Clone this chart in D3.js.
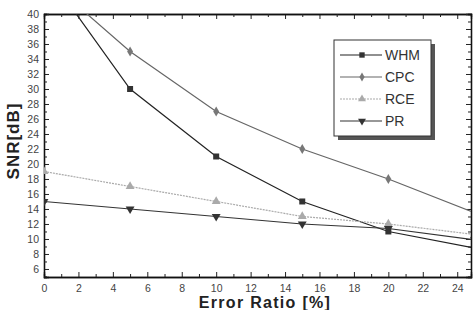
<!DOCTYPE html>
<html>
<head>
<script src="https://d3js.org/d3.v7.min.js"></script>
<style>
body {margin:0; background:#fff;}
svg {font-family: "Liberation Sans", Arial, sans-serif;}
</style>
</head>
<body>
<svg id="chart" width="473" height="310"></svg>
<script>
// error ratio [%]
var ratio = [0, 5, 10, 15, 20, 25];
var whm = [46, 30, 21, 15, 11, 8.8];
var cpc = [45, 35, 27, 22, 18, 13.5];
var rce = [19, 17, 15, 13, 12, 10.6];
var pr  = [15, 14, 13, 12, 11.4, 9.9];
var seriesNames = ["WHM", "CPC", "RCE", "PR"];
var xTicks = [0, 2, 4, 6, 8, 10, 12, 14, 16, 18, 20, 22, 24];
var yTicks = [6, 8, 10, 12, 14, 16, 18, 20, 22, 24, 26, 28, 30, 32, 34, 36, 38, 40];

var pLeft = 44, pRight = 471, pTop = 14, pBottom = 277;
var svg = d3.select("#chart");

var x = d3.scaleLinear().domain([0, 24.8]).range([pLeft, pRight]);
var y = d3.scaleLinear().domain([4.93, 40]).range([pBottom, pTop]);

svg.append("clipPath").attr("id", "clip")
  .append("rect").attr("x", pLeft).attr("y", pTop).attr("width", pRight - pLeft).attr("height", pBottom - pTop);

// frame axes, ticks point inward
var minorX = d3.range(1, 25, 2), minorY = d3.range(5, 40, 2);
svg.append("g").attr("transform", "translate(0," + pBottom + ")")
  .call(d3.axisBottom(x).tickValues(xTicks).tickSize(-5).tickPadding(8).tickFormat(d3.format("d")));
svg.append("g").attr("transform", "translate(0," + pBottom + ")")
  .call(d3.axisBottom(x).tickValues(minorX).tickSize(-3).tickFormat(""));
svg.append("g").attr("transform", "translate(0," + pTop + ")")
  .call(d3.axisTop(x).tickValues(xTicks).tickSize(-5).tickFormat(""));
svg.append("g").attr("transform", "translate(0," + pTop + ")")
  .call(d3.axisTop(x).tickValues(minorX).tickSize(-3).tickFormat(""));
svg.append("g").attr("transform", "translate(" + pLeft + ",0)")
  .call(d3.axisLeft(y).tickValues(yTicks).tickSize(-5).tickPadding(5));
svg.append("g").attr("transform", "translate(" + pLeft + ",0)")
  .call(d3.axisLeft(y).tickValues(minorY).tickSize(-3).tickFormat(""));
svg.append("g").attr("transform", "translate(" + pRight + ",0)")
  .call(d3.axisRight(y).tickValues(yTicks).tickSize(-5).tickFormat(""));
svg.append("g").attr("transform", "translate(" + pRight + ",0)")
  .call(d3.axisRight(y).tickValues(minorY).tickSize(-3).tickFormat(""));
svg.selectAll(".domain").attr("stroke", "#111").attr("stroke-width", 1.3);
svg.selectAll(".tick line").attr("stroke", "#222");
svg.selectAll(".tick text").attr("font-size", 10.5).attr("fill", "#444");

svg.append("text").attr("x", 265).attr("y", 308).attr("text-anchor", "middle")
  .attr("font-size", 16).attr("font-weight", "bold").attr("letter-spacing", 1.3).attr("fill", "#222").text("Error Ratio [%]");
svg.append("text").attr("transform", "translate(19,141) rotate(-90)").attr("text-anchor", "middle")
  .attr("font-size", 17).attr("font-weight", "bold").attr("letter-spacing", 1).attr("fill", "#222").text("SNR[dB]");

var styles = [
  {data: whm, color: "#222", dash: null, sym: d3.symbolSquare, size: 36, rot: 0, mcolor: "#333"},
  {data: cpc, color: "#666", dash: null, sym: d3.symbolDiamond, size: 30, rot: 0, mcolor: "#777"},
  {data: rce, color: "#aaa", dash: "2,1", sym: d3.symbolTriangle, size: 34, rot: 0, mcolor: "#aaa"},
  {data: pr,  color: "#333", dash: null, sym: d3.symbolTriangle, size: 34, rot: 180, mcolor: "#333"}
];

var line = d3.line().x(function(d, i) { return x(ratio[i]); }).y(function(d) { return y(d); });
var plot = svg.append("g").attr("clip-path", "url(#clip)");

styles.forEach(function(s) {
  plot.append("path").attr("d", line(s.data)).attr("fill", "none")
    .attr("stroke", s.color).attr("stroke-width", 1.2).attr("stroke-dasharray", s.dash);
  plot.selectAll(null).data(s.data).enter().append("path")
    .attr("d", d3.symbol().type(s.sym).size(s.size))
    .attr("transform", function(d, i) { return "translate(" + x(ratio[i]) + "," + y(d) + ") rotate(" + s.rot + ")"; })
    .attr("fill", s.mcolor);
});

// legend box with shadow
var lg = svg.append("g").attr("transform", "translate(334,40)");
lg.append("rect").attr("x", 4).attr("y", 4).attr("width", 97).attr("height", 96).attr("fill", "#555");
lg.append("rect").attr("width", 97).attr("height", 96).attr("fill", "#fff").attr("stroke", "#333").attr("stroke-width", 1);
styles.forEach(function(s, i) {
  var ly = 15 + i * 22;
  lg.append("line").attr("x1", 6).attr("x2", 48).attr("y1", ly).attr("y2", ly)
    .attr("stroke", s.color).attr("stroke-width", 1.2).attr("stroke-dasharray", s.dash);
  lg.append("path").attr("d", d3.symbol().type(s.sym).size(s.size * 0.8))
    .attr("transform", "translate(28," + ly + ") rotate(" + s.rot + ")").attr("fill", s.mcolor);
  lg.append("text").attr("x", 51).attr("y", ly + 5).attr("font-size", 14).attr("fill", "#333").text(seriesNames[i]);
});
</script>
</body>
</html>
